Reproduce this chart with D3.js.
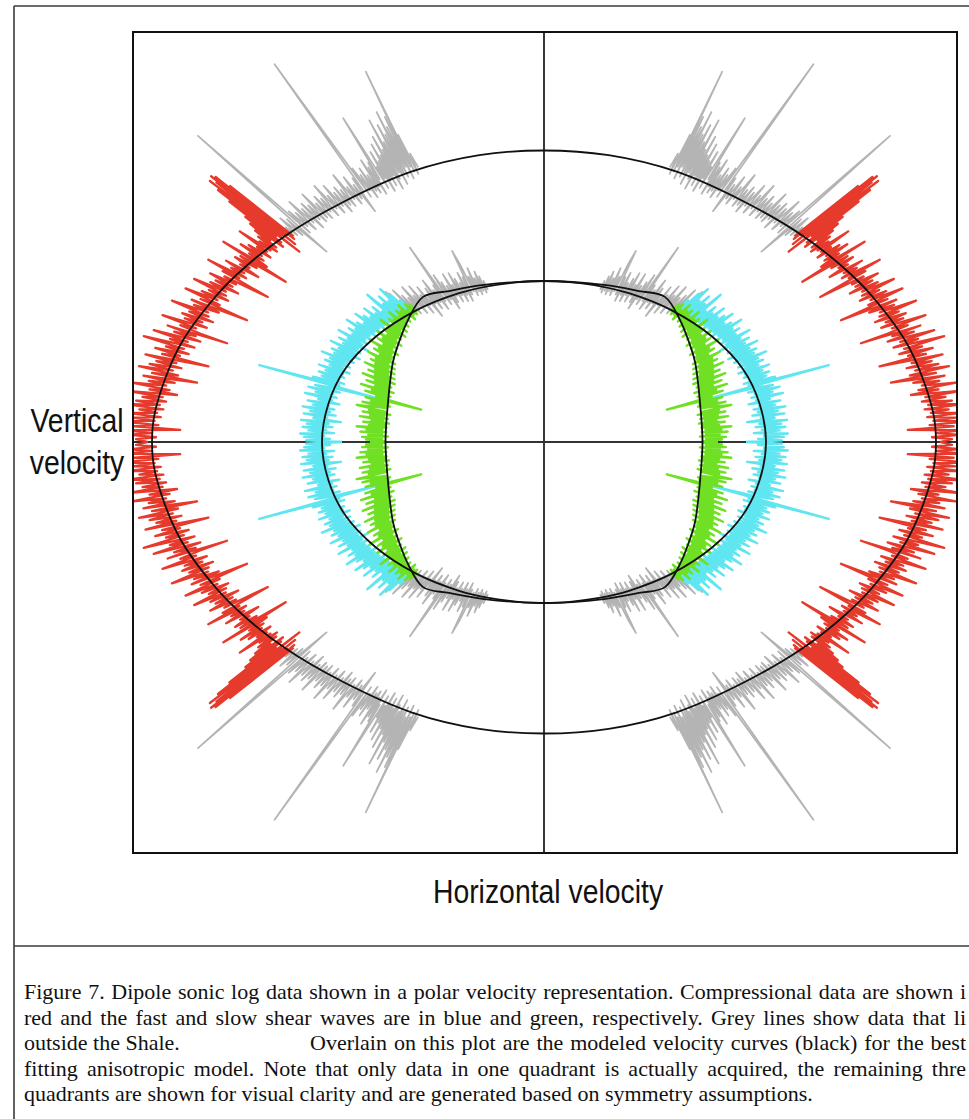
<!DOCTYPE html>
<html><head><meta charset="utf-8">
<script src="https://cdn.jsdelivr.net/npm/d3@7"></script>
<style>html,body{margin:0;padding:0;background:#fff;overflow:hidden}</style>
</head><body><svg id="c" width="969" height="1119"></svg>
<script>
// ---- modelled velocity curves (angle from vertical in degrees, group velocity in km/s), one quadrant ----
const pModel  = [[0,2.915],[12.7,2.94],[26,3.01],[40,3.13],[51.5,3.31],[60,3.47],[66,3.59],[75.4,3.77],[85.4,3.90],[90,3.92]];
const shModel = [[0,1.61],[10,1.62],[20,1.657],[30,1.715],[44,1.833],[58,1.985],[70,2.12],[80,2.19],[90,2.22]];
const svModel = [[0,1.61],[20.9,1.681],[32.2,1.784],[39.8,1.889],[48.1,1.827],[55.4,1.761],[62.1,1.709],[75.6,1.61],[90,1.585]];

// ---- measured data, acquired quadrant (angle deg, velocity km/s) ----
const pGrey = [[24.6,3.02],[24.9,3.18],[25.1,2.96],[25.4,3.40],[25.6,3.00],[25.7,4.11],[25.9,3.06],[26.1,3.62],[26.3,2.94],[26.5,3.52],[26.7,3.08],[26.9,3.70],[27.1,2.98],[27.3,3.46],[27.5,3.04],[27.7,3.58],[27.9,2.92],[28.1,3.40],[28.3,3.06],[28.5,3.66],[28.7,3.00],[28.9,3.34],[29.1,2.90],[29.3,3.50],[29.5,3.06],[29.7,3.30],[29.9,2.96],[30.1,3.44],[30.3,3.04],[30.5,3.26],[30.7,2.92],[30.9,3.38],[31.1,3.08],[31.3,3.22],[31.5,2.98],[31.8,3.81],[32.0,3.10],[32.2,3.30],[32.4,2.94],[32.6,3.26],[32.8,3.04],[33.0,3.36],[33.2,2.98],[33.5,3.20],[33.7,3.02],[34.0,3.30],[34.2,2.96],[34.5,3.24],[34.7,3.06],[35.0,3.34],[35.2,3.00],[35.5,4.64],[35.7,3.10],[36.0,3.26],[36.2,2.86],[36.5,3.20],[36.8,3.04],[37.1,3.32],[37.4,3.00],[37.7,3.22],[38.0,3.08],[38.3,3.40],[38.6,3.02],[38.9,3.24],[39.2,3.06],[39.5,3.30],[39.8,3.00],[40.1,3.26],[40.4,3.10],[40.7,3.38],[41.0,3.04],[41.3,3.28],[41.6,3.12],[41.9,3.44],[42.2,3.06],[42.5,3.30],[42.8,3.14],[43.1,3.36],[43.4,3.08],[43.7,3.30],[44.0,3.12],[44.3,3.46],[44.6,3.10],[44.9,3.34],[45.2,3.16],[45.5,3.40],[45.8,3.08],[46.1,3.36],[46.4,3.18],[46.7,3.50],[47.0,3.12],[47.3,3.38],[47.6,3.20],[47.9,3.44],[48.2,3.14],[48.5,4.62],[48.7,3.24],[48.8,2.89],[49.1,3.40],[49.4,3.18],[49.7,3.46],[50.0,3.22],[50.3,3.36],[50.6,3.24]];

const pShale = [[50.6,3.24],[50.8,4.05],[50.9,3.22],[51.1,4.22],[51.2,3.30],[51.4,4.26],[51.5,3.18],[51.6,4.18],[51.8,3.34],[52.0,4.24],[52.1,3.10],[52.3,4.12],[52.4,3.38],[52.6,3.96],[52.8,3.30],[53.0,3.74],[53.2,3.26],[53.4,3.66],[53.6,3.40],[53.8,3.58],[54.0,3.31],[54.3,3.52],[54.5,3.28],[54.8,3.48],[55.0,3.34],[55.3,3.70],[55.5,3.36],[55.8,3.47],[56.0,3.30],[56.3,3.55],[56.6,3.38],[56.9,3.62],[57.1,3.34],[57.4,3.50],[57.7,3.28],[58.0,3.78],[58.2,3.04],[58.5,3.56],[58.8,3.36],[59.1,3.60],[59.4,3.42],[59.7,3.52],[60.0,3.30],[60.3,3.66],[60.6,3.44],[60.9,3.58],[61.2,3.40],[61.5,3.82],[61.7,3.46],[62.0,3.64],[62.3,3.12],[62.6,3.60],[62.9,3.46],[63.2,3.74],[63.5,3.48],[63.8,3.66],[64.1,3.40],[64.4,3.70],[64.7,3.52],[65.0,3.86],[65.3,3.50],[65.6,3.68],[65.9,3.46],[66.2,3.74],[66.5,3.56],[66.8,3.90],[67.1,3.52],[67.4,3.72],[67.7,3.21],[68.0,3.80],[68.3,3.50],[68.6,3.76],[68.9,3.60],[69.2,3.98],[69.5,3.58],[69.8,3.78],[70.1,3.52],[70.4,3.84],[70.7,3.62],[71.0,3.80],[71.3,3.56],[71.6,4.02],[71.9,3.66],[72.2,3.82],[72.5,3.60],[72.7,3.32],[72.8,3.94],[73.1,3.64],[73.4,3.86],[73.7,3.58],[74.0,4.06],[74.3,3.70],[74.6,3.88],[74.9,3.62],[75.2,4.14],[75.5,3.72],[75.8,3.90],[76.1,3.66],[76.4,4.00],[76.7,3.74],[77.0,3.92],[77.3,3.44],[77.6,4.08],[77.9,3.76],[78.2,3.96],[78.5,3.70],[78.8,4.02],[79.1,3.78],[79.4,4.12],[79.7,3.72],[80.0,3.98],[80.3,3.52],[80.6,4.06],[80.9,3.74],[81.2,4.00],[81.5,3.82],[81.8,4.16],[82.1,3.78],[82.4,3.98],[82.7,3.70],[83.0,4.20],[83.3,3.84],[83.6,4.04],[83.9,3.80],[84.2,4.10],[84.5,3.86],[84.8,4.22],[85.1,3.82],[85.4,4.06],[85.7,3.88],[86.0,4.18],[86.3,3.84],[86.6,4.12],[86.9,3.90],[87.2,4.24],[87.5,3.86],[87.8,4.10],[88.1,3.64],[88.4,4.20],[88.7,3.92],[89.0,4.16],[89.3,3.88],[89.6,4.08],[90.0,3.96]];

const sGrey = [[20.2,1.62],[20.6,1.72],[21.0,1.60],[21.4,1.78],[21.8,1.63],[22.2,1.84],[22.6,1.60],[23.0,1.78],[23.4,1.64],[23.8,1.90],[24.2,1.61],[24.6,1.82],[25.0,1.66],[25.3,1.96],[25.7,2.12],[25.9,1.64],[26.3,1.84],[26.7,1.58],[27.1,1.90],[27.5,1.66],[27.9,1.80],[28.3,1.60],[28.7,1.86],[29.1,1.68],[29.5,1.94],[29.9,1.62],[30.3,1.82],[30.7,1.70],[31.1,1.96],[31.5,1.64],[31.9,1.84],[32.3,1.58],[32.7,1.90],[33.1,1.70],[33.5,2.00],[33.9,1.66],[34.3,1.86],[34.6,2.36],[34.9,1.72],[35.3,1.92],[35.7,1.64],[36.1,1.88],[36.5,1.74],[36.9,2.02],[37.3,1.68],[37.7,1.94],[38.1,1.76],[38.5,1.88],[38.9,1.62],[39.3,2.00],[39.7,1.78],[40.1,1.92],[40.5,1.70],[40.9,2.06],[41.3,1.80],[41.7,1.96],[42.1,1.74],[42.5,2.10],[42.9,1.82],[43.3,1.98],[43.7,1.78],[44.1,2.04],[44.5,1.84],[44.9,2.14],[45.3,1.82],[45.7,2.00],[46.1,1.86],[46.5,2.18],[46.9,1.90],[47.3,2.06]];

const sFast = [[45.0,1.86],[45.4,2.02],[45.8,1.84],[46.2,2.14],[46.6,1.88],[47.0,2.24],[47.4,1.90],[47.8,2.10],[48.2,1.86],[48.6,2.20],[49.0,1.92],[49.4,2.12],[49.8,1.90],[50.2,2.30],[50.6,1.94],[51.0,2.08],[51.4,1.90],[51.8,2.18],[52.2,1.96],[52.6,2.12],[53.0,1.92],[53.4,2.24],[53.8,1.98],[54.2,2.14],[54.6,1.94],[55.0,2.20],[55.4,2.00],[55.8,2.28],[56.2,1.96],[56.6,2.16],[57.0,2.02],[57.4,2.22],[57.8,1.98],[58.2,2.32],[58.6,2.04],[59.0,2.20],[59.4,2.00],[59.8,2.26],[60.2,2.06],[60.6,2.20],[61.0,2.02],[61.4,2.34],[61.8,2.06],[62.2,2.22],[62.6,1.98],[63.0,2.30],[63.4,2.08],[63.8,2.24],[64.2,2.04],[64.6,2.36],[65.0,2.08],[65.4,2.26],[65.8,2.02],[66.2,2.32],[66.6,2.10],[67.0,2.28],[67.4,2.06],[67.8,2.40],[68.2,2.12],[68.6,2.30],[69.0,2.08],[69.4,2.34],[69.8,2.14],[70.2,2.28],[70.6,2.06],[71.0,2.38],[71.4,2.12],[71.8,2.30],[72.2,2.10],[72.6,2.36],[73.0,2.14],[73.4,2.32],[73.8,2.08],[74.2,2.40],[74.6,2.12],[74.9,2.95],[75.1,2.16],[75.3,1.70],[75.6,2.20],[76.0,2.36],[76.4,2.10],[76.8,2.42],[77.2,2.16],[77.6,2.34],[78.0,2.12],[78.4,2.44],[78.8,2.16],[79.2,2.30],[79.6,2.08],[80.0,2.40],[80.4,2.18],[80.8,2.34],[81.2,2.12],[81.6,2.44],[82.0,2.16],[82.4,2.36],[82.8,2.10],[83.2,2.42],[83.6,2.18],[84.0,2.32],[84.4,2.04],[84.8,2.44],[85.2,2.16],[85.6,2.38],[86.0,2.12],[86.4,2.42],[86.8,2.18],[87.2,2.36],[87.6,2.10],[88.0,2.44],[88.4,2.20],[88.8,2.40],[89.2,2.14],[89.6,2.38],[90.0,2.02]];

const sSlow = [[44.0,1.82],[44.4,1.92],[44.8,1.80],[45.2,1.96],[45.6,1.82],[46.0,1.90],[46.4,1.78],[46.8,2.00],[47.2,1.84],[47.6,1.94],[48.0,1.80],[48.4,1.98],[48.8,1.84],[49.2,1.92],[49.6,1.78],[50.0,2.02],[50.4,1.82],[50.8,1.94],[51.2,1.76],[51.6,1.98],[52.0,1.82],[52.4,1.92],[52.8,1.74],[53.2,2.04],[53.6,1.80],[54.0,1.94],[54.4,1.76],[54.8,1.96],[55.2,1.80],[55.6,1.90],[56.0,1.72],[56.4,2.00],[56.8,1.78],[57.2,1.92],[57.6,1.74],[58.0,1.96],[58.4,1.78],[58.8,1.88],[59.2,1.70],[59.6,2.02],[60.0,1.76],[60.4,1.90],[60.8,1.72],[61.2,1.94],[61.6,1.74],[62.0,1.86],[62.4,1.68],[62.8,1.98],[63.2,1.74],[63.6,1.88],[64.0,1.66],[64.4,1.92],[64.8,1.72],[65.2,1.86],[65.6,1.64],[66.0,1.96],[66.4,1.70],[66.8,1.84],[67.2,1.62],[67.6,1.90],[68.0,1.68],[68.4,1.82],[68.8,1.60],[69.2,1.94],[69.6,1.66],[70.0,1.80],[70.4,1.62],[70.8,1.88],[71.2,1.64],[71.6,1.78],[72.0,1.58],[72.4,1.92],[72.8,1.64],[73.2,1.80],[73.6,1.60],[74.0,1.86],[74.4,1.62],[74.8,1.74],[75.2,1.27],[75.5,1.66],[75.9,1.84],[76.3,1.60],[76.7,1.78],[77.1,1.58],[77.5,1.86],[77.9,1.62],[78.3,1.76],[78.8,1.91],[79.2,1.60],[79.6,1.78],[80.0,1.56],[80.4,1.84],[80.8,1.62],[81.2,1.76],[81.6,1.58],[82.0,1.86],[82.4,1.62],[82.8,1.74],[83.2,1.56],[83.6,1.82],[84.0,1.60],[84.4,1.76],[84.8,1.58],[85.2,1.88],[85.6,1.62],[86.0,1.78],[86.4,1.58],[86.8,1.84],[87.2,1.62],[87.6,1.76],[88.0,1.56],[88.4,1.82],[88.8,1.62],[89.2,1.78],[89.6,1.60],[90.0,1.74]];

const axisTitles = {x: "Horizontal velocity", y: ["Vertical", "velocity"]};
// caption lines as visible in the figure (the page crops them at the right edge)
const captionLines = [
  ["Figure 7. Dipole sonic log data shown in a polar velocity representation. Compressional data are shown i"],
  ["red and the fast and slow shear waves are in blue and green, respectively. Grey lines show data that li"],
  ["outside the Shale.", "Overlain on this plot are the modeled velocity curves (black) for the best"],
  ["fitting anisotropic model. Note that only data in one quadrant is actually acquired, the remaining thre"],
  ["quadrants are shown for visual clarity and are generated based on symmetry assumptions."]
];

const svg = d3.select("#c");
const X0 = 133, X1 = 957, Y0 = 32, Y1 = 853;
const x = d3.scaleLinear().domain([-4.11, 4.13]).range([X0, X1]);
const y = d3.scaleLinear().domain([-4.11, 4.10]).range([Y1, Y0]);
const rad = Math.PI / 180;
function toXY(d, sx, sy) {
  return [x(sx * d[1] * Math.sin(d[0] * rad)), y(sy * d[1] * Math.cos(d[0] * rad))];
}
const quads = [[-1, 1], [1, 1], [-1, -1], [1, -1]];

// figure box
const box = svg.append("g").attr("stroke", "#3a3a3a").attr("stroke-width", 1.6);
box.append("line").attr("x1", 14).attr("y1", 6).attr("x2", 14).attr("y2", 1119);
box.append("line").attr("x1", 14).attr("y1", 6).attr("x2", 969).attr("y2", 6);
box.append("line").attr("x1", 14).attr("y1", 946).attr("x2", 969).attr("y2", 946);

svg.append("clipPath").attr("id", "clip").append("rect")
  .attr("x", X0).attr("y", Y0).attr("width", X1 - X0).attr("height", Y1 - Y0);

const plot = svg.append("g").attr("clip-path", "url(#clip)");

// axes through origin
plot.append("line").attr("x1", x(0)).attr("x2", x(0)).attr("y1", Y0).attr("y2", Y1)
  .attr("stroke", "#222").attr("stroke-width", 1.8);
plot.append("line").attr("x1", X0).attr("x2", X1).attr("y1", y(0)).attr("y2", y(0))
  .attr("stroke", "#333").attr("stroke-width", 1.8);

const line = d3.line();
const series = [
  {data: pGrey, color: "#b4b4b4", w: 1.7},
  {data: sGrey, color: "#b4b4b4", w: 1.7},
  {data: pShale, color: "#e63a2c", w: 2.3},
  {data: sFast, color: "#5fe6f0", w: 2.3},
  {data: sSlow, color: "#70e024", w: 2.3}
];
series.forEach(s => {
  quads.forEach(([sx, sy]) => {
    plot.append("path")
      .attr("d", line(s.data.map(d => toXY(d, sx, sy))))
      .attr("fill", "none").attr("stroke", s.color)
      .attr("stroke-width", s.w).attr("stroke-linejoin", "round");
  });
});

// model curves as closed rings built by symmetry
function ring(model) {
  const pts = [], n = model.length;
  [[1, 1, false], [1, -1, true], [-1, -1, false], [-1, 1, true]].forEach(([sx, sy, rev]) => {
    const arr = rev ? model.slice().reverse() : model;
    arr.slice(0, n - 1).forEach(d => pts.push(toXY(d, sx, sy)));
  });
  return pts;
}
const closed = d3.line().curve(d3.curveCatmullRomClosed.alpha(0.5));
[pModel, shModel, svModel].forEach(m => {
  plot.append("path").attr("d", closed(ring(m)))
    .attr("fill", "none").attr("stroke", "#111").attr("stroke-width", 1.8);
});

// plot frame
svg.append("rect").attr("x", X0).attr("y", Y0).attr("width", X1 - X0).attr("height", Y1 - Y0)
  .attr("fill", "none").attr("stroke", "#111").attr("stroke-width", 2);

// axis titles
const tf = "'Liberation Sans', Arial, sans-serif";
svg.append("text").attr("transform", "translate(548,903) scale(0.86,1)")
  .attr("text-anchor", "middle").attr("font-family", tf).attr("font-size", 33).attr("fill", "#111")
  .text(axisTitles.x);
axisTitles.y.forEach((t, i) => {
  svg.append("text").attr("transform", `translate(77,${432 + i * 42}) scale(0.86,1)`)
    .attr("text-anchor", "middle").attr("font-family", tf).attr("font-size", 33).attr("fill", "#111")
    .text(t);
});

// caption (justified lines, as in the source document)
const cap = svg.append("g").attr("font-family", "'Liberation Serif', 'Times New Roman', serif")
  .attr("font-size", 22).attr("fill", "#111");
const rightEdge = 966;
captionLines.forEach((parts, i) => {
  const t = cap.append("text").attr("y", 999 + i * 25.6);
  const startX = parts[1] ? 310 : 24;
  if (parts[1]) t.append("tspan").attr("x", 24).text(parts[0]);
  const ts = t.append("tspan").attr("x", startX).text(parts[1] || parts[0]);
  if (i < 4) {
    const w = ts.node().getComputedTextLength();
    const n = (ts.text().match(/ /g) || []).length;
    ts.attr("word-spacing", ((rightEdge - startX) - w) / n);
  }
});
</script></body></html>
